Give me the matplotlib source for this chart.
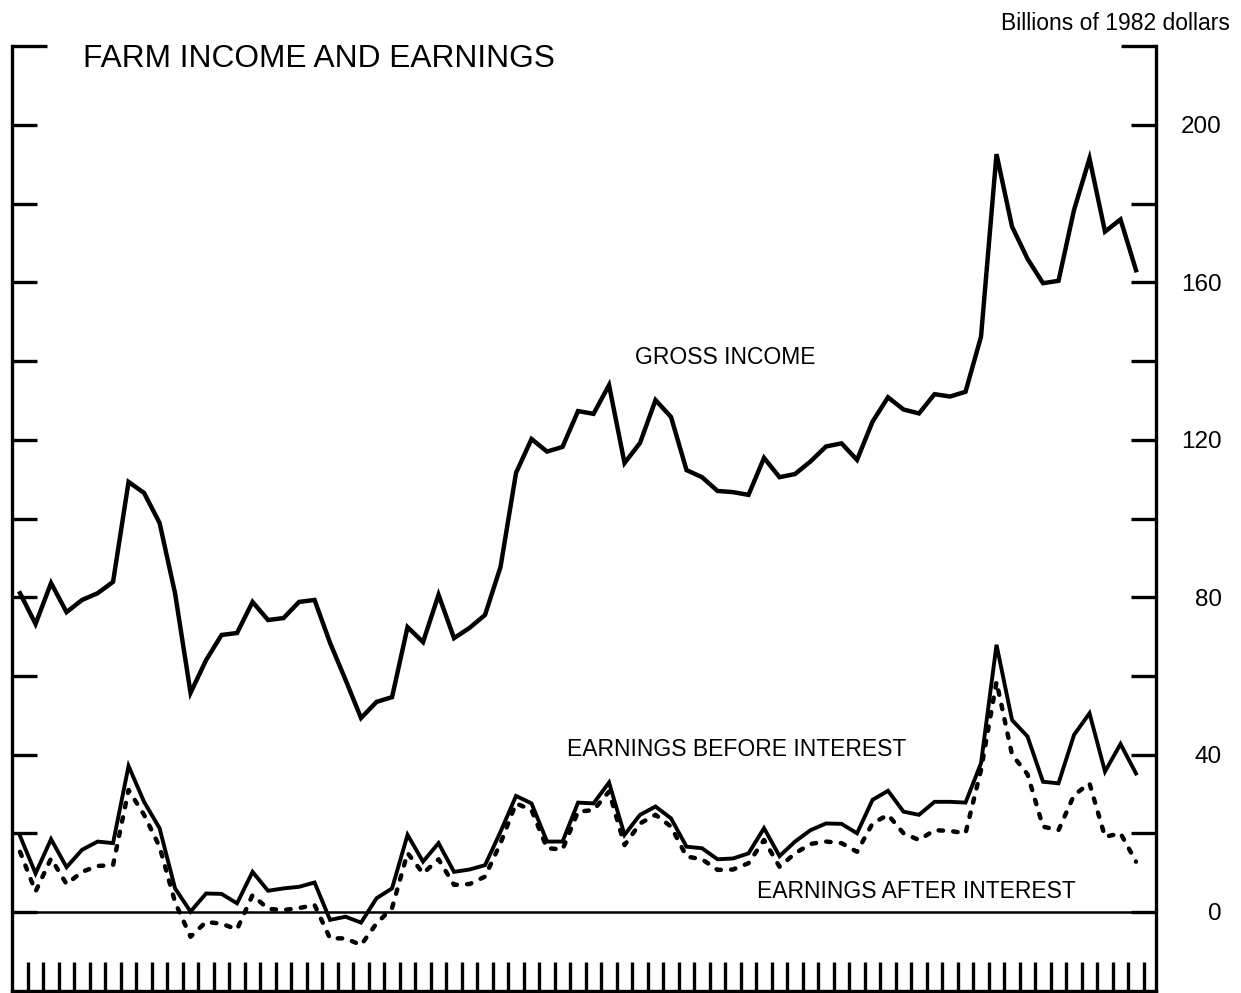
import numpy as np
import matplotlib
matplotlib.use("Agg")
import matplotlib.pyplot as plt
from matplotlib.ticker import FixedLocator, FuncFormatter

years = np.arange(1910, 1983)

gross_income = [81, 73.2, 83.6, 76.2, 79.3, 81, 83.9, 109.3, 106.5, 98.9,
                81, 55.7, 64, 70.4, 70.9, 78.8, 74.2, 74.7, 78.8, 79.3,
                68.4, 59, 49.3, 53.4, 54.6, 72.4, 68.6, 80.6, 69.6, 72.2,
                75.5, 87.7, 111.6, 120.2, 117, 118.2, 127.3, 126.6, 133.9, 114.1,
                119.2, 130.1, 125.8, 112.3, 110.5, 107, 106.7, 106, 115.4, 110.5,
                111.3, 114.5, 118.3, 119.1, 114.9, 124.6, 130.8, 127.7, 126.7, 131.6,
                131, 132.2, 146.2, 192.6, 174.2, 166, 159.8, 160.4, 178.4, 191.5,
                172.9, 176, 163.1]

earnings_before = [19.3, 9.8, 18.5, 11.4, 15.8, 17.9, 17.5, 37.1, 28, 21.3,
                   6, 0.1, 4.7, 4.6, 2.2, 10.2, 5.4, 6, 6.4, 7.5,
                   -2, -1.2, -2.7, 3.5, 6, 19.6, 12.8, 17.5, 10.2, 10.8,
                   11.9, 20.4, 29.5, 27.6, 17.9, 17.9, 27.8, 27.6, 32.9, 19.6,
                   24.7, 26.8, 23.8, 16.6, 16.2, 13.4, 13.6, 14.9, 21.3, 14.2,
                   17.9, 20.8, 22.5, 22.4, 20, 28.5, 30.8, 25.5, 24.7, 28,
                   28, 27.8, 37.8, 67.9, 48.8, 44.6, 33.1, 32.7, 45, 50.5,
                   35.7, 42.7, 35.2]

earnings_after = [15.3, 5.2, 13.6, 7.1, 10.2, 11.7, 11.9, 31, 24.7, 16.6,
                  2.5, -6.3, -2.5, -3, -4.4, 4.3, 0.8, 0.5, 1, 1.8,
                  -6.7, -6.7, -8.4, -2.9, 1, 15, 9.8, 13.4, 6.9, 7.1,
                  9, 17.5, 27.6, 25.9, 16.2, 15.9, 25.5, 25.9, 30.6, 17,
                  22.5, 24.7, 21.7, 14.1, 13.4, 10.7, 10.8, 12.4, 18.3, 11.5,
                  14.9, 17.3, 17.9, 17.5, 15.3, 22.5, 24.7, 20, 18.3, 20.8,
                  20.6, 20, 36.1, 58.5, 40, 35, 21.7, 20.8, 29.7, 32.7,
                  19.1, 20, 12.8]

y_ticks = list(range(0, 201, 20))
y_labels = {0: "0", 40: "40", 80: "80", 120: "120", 160: "160", 200: "200"}
x_ticks = list(np.arange(1910.5, 1983.0, 1.0))

FONT = ["Liberation Sans", "DejaVu Sans"]
plt.rcParams["font.family"] = FONT

W, H = 1241, 993
fig = plt.figure(figsize=(W / 100, H / 100), dpi=100)
ax = fig.add_axes([12 / W, 2.3 / H, (1156 - 12) / W, (990.7 - 46.3) / H])

ax.plot(years, gross_income, color="black", lw=3.2, solid_joinstyle="miter")
ax.plot(years, earnings_before, color="black", lw=2.8, solid_joinstyle="miter")
ax.plot(years, earnings_after, color="black", lw=3.2,
        linestyle=(0, (1.0, 2.3)), dash_capstyle="round")
ax.axhline(0, color="black", lw=1.8)

ax.set_xlim(1909.48, 1983.29)
ax.set_ylim(-20, 220)

for side in ["left", "right", "bottom"]:
    ax.spines[side].set_linewidth(2.4)
ax.spines["top"].set_visible(False)

ax.xaxis.set_major_locator(FixedLocator(x_ticks))
ax.tick_params(axis="x", which="major", direction="in", length=21, width=2.4,
               labelbottom=False, top=False)

ax.yaxis.set_major_locator(FixedLocator(y_ticks))
ax.yaxis.set_minor_locator(FixedLocator([220]))
ax.yaxis.set_major_formatter(FuncFormatter(lambda v, p: y_labels.get(int(round(v)), "")))
ax.tick_params(axis="y", which="major", direction="in", length=18, width=2.4,
               left=True, right=True, labelleft=False, labelright=True,
               labelsize=17.5, pad=47.5)
ax.tick_params(axis="y", which="minor", direction="in", length=25, width=2.4,
               left=True, right=True, labelleft=False, labelright=False)
for t in ax.yaxis.get_major_ticks():
    t.label2.set_horizontalalignment("right")

fig.text(83 / W, 1 - 59 / H, "FARM INCOME AND EARNINGS", fontsize=22.8,
         ha="left", va="center")
fig.text(1230 / W, 1 - 23 / H, "Billions of 1982 dollars", fontsize=16.5,
         ha="right", va="center")

ax.text(1955.5, 140.8, "GROSS INCOME", fontsize=16.5, ha="center", va="center")
ax.text(1956.2, 41.2, "EARNINGS BEFORE INTEREST", fontsize=16.5, ha="center", va="center")
ax.text(1967.8, 5.2, "EARNINGS AFTER INTEREST", fontsize=16.5, ha="center", va="center")

fig.savefig("out.png", dpi=100)
